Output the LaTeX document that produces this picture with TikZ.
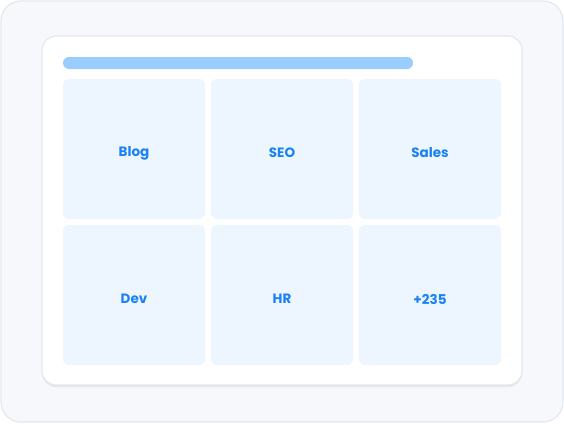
\documentclass[tikz,border=0pt]{standalone}
\usepackage{fontspec}
\setmainfont{Poppins}
\definecolor{outerbg}{HTML}{F6F8FC}
\definecolor{outerbd}{HTML}{E3E8EF}
\definecolor{cardbd}{HTML}{E3E8EF}
\definecolor{barc}{HTML}{99CCFF}
\definecolor{tilec}{HTML}{EDF5FF}
\definecolor{txtc}{HTML}{1A82F5}
\begin{document}
\begin{tikzpicture}[x=1pt,y=-1pt,
  tile/.style={fill=tilec,rounded corners=6pt},
  lbl/.style={text=txtc,font=\fontsize{13.5}{15}\selectfont\bfseries}]
\useasboundingbox (0,0) rectangle (564,423);
\path[fill=outerbg,draw=outerbd,line width=1.2pt,rounded corners=20pt] (1,1) rectangle (563,422);
\path[fill=cardbd,rounded corners=14pt] (42,37) rectangle (522,387);
\path[fill=white,draw=cardbd,line width=1.2pt,rounded corners=14pt] (42,36) rectangle (522,385);
\path[fill=barc,rounded corners=6pt] (63,57) rectangle (413,69);
\foreach \x/\y/\t/\n in {63/79/Blog/a,211/79/SEO/b,359/79/Sales/c,63/225/Dev/d,211/225/HR/e,359/225/+235/f}{
  \path[tile] (\x,\y) rectangle ++(142,140);
  \node[lbl] (\n) at (\x+71,\y+74) {\t};
}
\end{tikzpicture}
\end{document}
